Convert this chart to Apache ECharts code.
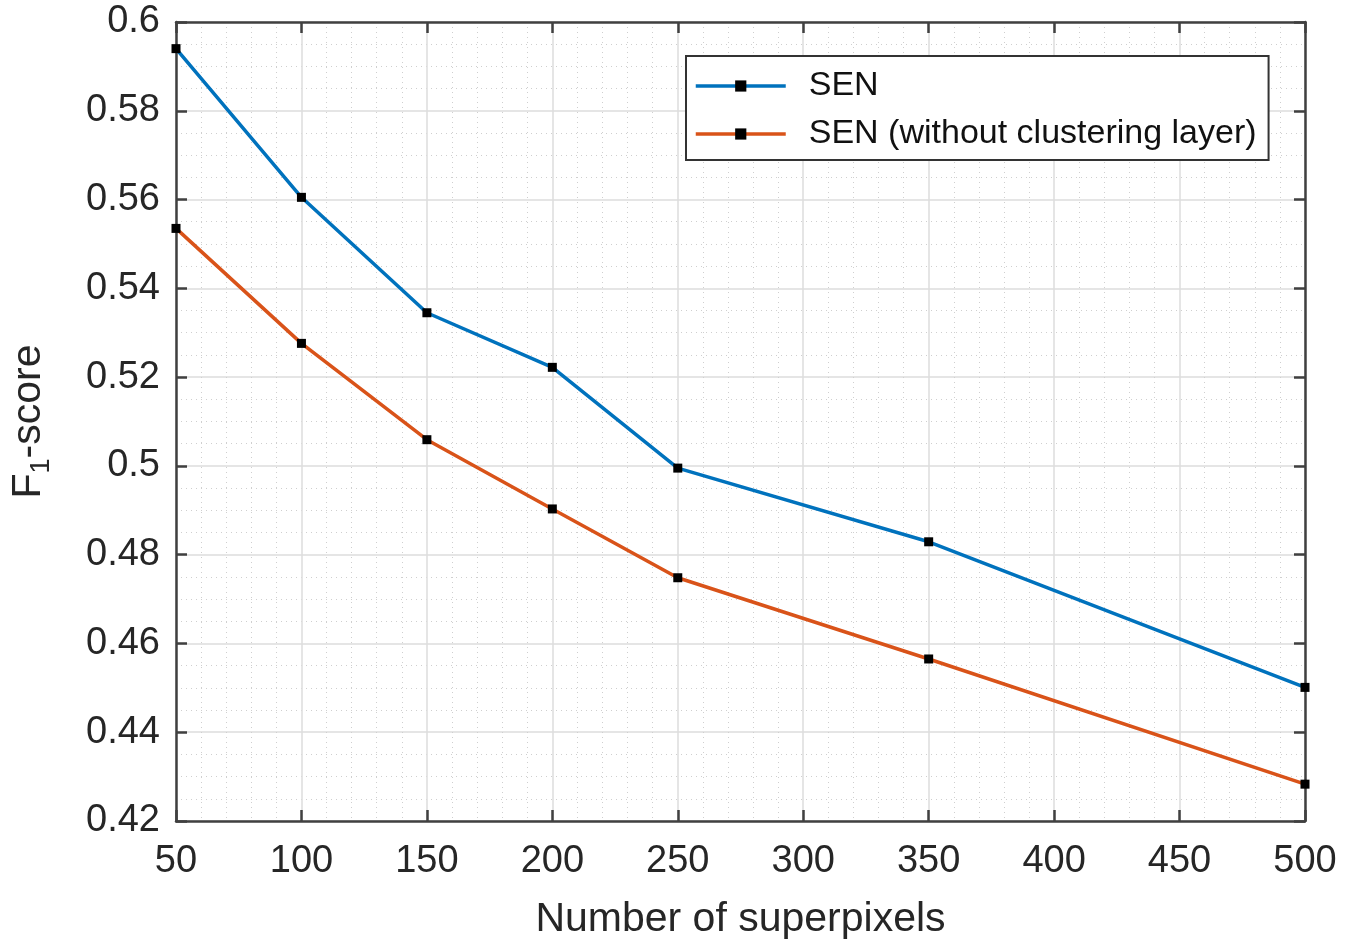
<!DOCTYPE html>
<html>
<head>
<meta charset="utf-8">
<script src="https://cdn.jsdelivr.net/npm/echarts@6/dist/echarts.min.js"></script>
<style>html,body{margin:0;padding:0;background:#fff;}#c{width:1355px;height:945px;}</style>
</head>
<body>
<div id="c"></div>
<script>
const superpixels = [50, 100, 150, 200, 250, 350, 500];
const senValues = [0.594, 0.5605, 0.5345, 0.5222, 0.4995, 0.4829, 0.4501];
const senNoClusterValues = [0.5535, 0.5276, 0.5059, 0.4903, 0.4748, 0.4565, 0.4283];
const seriesNames = ['SEN', 'SEN (without clustering layer)'];
const xTicks = [50, 100, 150, 200, 250, 300, 350, 400, 450, 500];
const yTicks = [0.42, 0.44, 0.46, 0.48, 0.5, 0.52, 0.54, 0.56, 0.58, 0.6];

const FONT = 'Liberation Sans, Arial, sans-serif';
const axisColor = '#404040';
const textColor = '#262626';
const chart = echarts.init(document.getElementById('c'));

function pairs(vals) { return superpixels.map((x, i) => [x, vals[i]]); }
function fmtY(v) { return String(parseFloat(v.toFixed(2))); }

const xBase = {
  type: 'value', min: xTicks[0], max: xTicks[xTicks.length - 1], interval: 50,
  axisLine: { show: true, lineStyle: { color: axisColor, width: 2.5 } },
  axisTick: { show: true, inside: true, length: 11, lineStyle: { color: axisColor, width: 2.5 } }
};
const yBase = {
  type: 'value', min: yTicks[0], max: yTicks[yTicks.length - 1], interval: 0.02,
  axisLine: { show: true, lineStyle: { color: axisColor, width: 2.5 } },
  axisTick: { show: true, inside: true, length: 11, lineStyle: { color: axisColor, width: 2.5 } }
};

chart.setOption({
  animation: false,
  backgroundColor: '#ffffff',
  grid: { left: 176, right: 50, top: 22, bottom: 124, show: false, containLabel: false, outerBoundsMode: 'none' },
  legend: {
    left: 686, top: 56, orient: 'vertical',
    backgroundColor: '#ffffff', borderColor: '#333', borderWidth: 2,
    padding: [13, 12, 9, 8], itemGap: 14, itemWidth: 90, itemHeight: 14,
    lineStyle: { width: 3.5 },
    textStyle: { fontFamily: FONT, fontSize: 34, color: '#111', padding: [0, 0, 0, 18] },
    data: seriesNames
  },
  xAxis: [
    Object.assign({}, xBase, {
      position: 'bottom',
      name: 'Number of superpixels', nameLocation: 'middle', nameGap: 78,
      nameTextStyle: { fontFamily: FONT, fontSize: 41, color: textColor },
      axisLabel: { show: true, margin: 22, fontFamily: FONT, fontSize: 38, color: textColor },
      splitLine: { show: true, lineStyle: { color: '#dcdcdc', width: 1.5 } },
      minorTick: { show: false, splitNumber: 5 },
      minorSplitLine: { show: true, lineStyle: { color: '#cfcfcf', width: 1, type: [1, 4] } }
    }),
    Object.assign({}, xBase, {
      position: 'top', axisLabel: { show: false }, splitLine: { show: false }
    })
  ],
  yAxis: [
    Object.assign({}, yBase, {
      position: 'left',
      name: '{a|F}{b|1}{a|-score}', nameLocation: 'middle', nameGap: 121, nameRotate: 90,
      nameTextStyle: {
        fontFamily: FONT, color: textColor,
        rich: {
          a: { fontFamily: FONT, fontSize: 41, color: textColor, lineHeight: 52, verticalAlign: 'middle' },
          b: { fontFamily: FONT, fontSize: 27, color: textColor, lineHeight: 52, verticalAlign: 'bottom', padding: [20, 0, 0, 0] }
        }
      },
      axisLabel: { show: true, margin: 16, fontFamily: FONT, fontSize: 38, color: textColor, formatter: fmtY },
      splitLine: { show: true, lineStyle: { color: '#dcdcdc', width: 1.5 } },
      minorTick: { show: false, splitNumber: 4 },
      minorSplitLine: { show: true, lineStyle: { color: '#cfcfcf', width: 1, type: [1, 4] } }
    }),
    Object.assign({}, yBase, {
      position: 'right', axisLabel: { show: false }, splitLine: { show: false }
    })
  ],
  series: [
    {
      name: seriesNames[0], type: 'line', data: pairs(senValues),
      symbol: 'rect', symbolSize: 9, z: 3,
      lineStyle: { color: '#0072BD', width: 3.5 },
      itemStyle: { color: '#000000' }
    },
    {
      name: seriesNames[1], type: 'line', data: pairs(senNoClusterValues),
      symbol: 'rect', symbolSize: 9, z: 3,
      lineStyle: { color: '#D95319', width: 3.5 },
      itemStyle: { color: '#000000' }
    }
  ]
});
</script>
</body>
</html>
